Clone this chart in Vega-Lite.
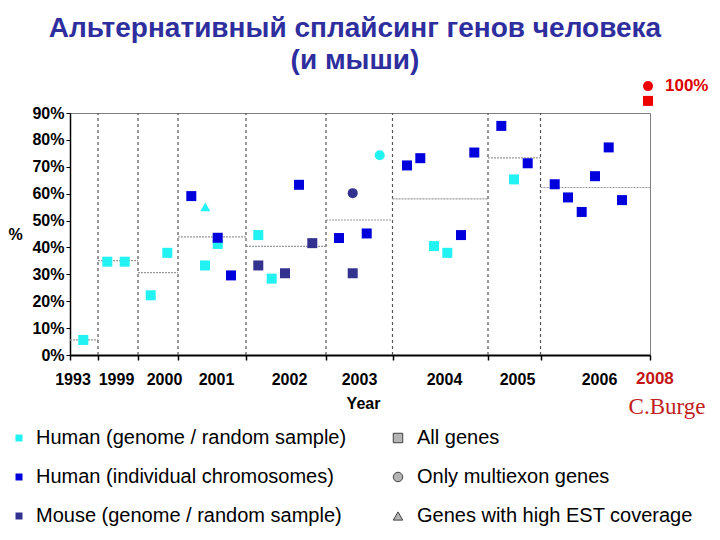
{
  "$schema": "https://vega.github.io/schema/vega-lite/v6.json",
  "autosize": "none",
  "width": 580,
  "height": 242,
  "padding": {"left": 70, "top": 113, "right": 70, "bottom": 185},
  "background": "white",
  "title": {
    "text": ["Альтернативный сплайсинг генов человека", "(и мыши)"],
    "anchor": "middle",
    "frame": "group",
    "dx": -5,
    "offset": 2,
    "font": "Liberation Sans",
    "fontSize": 28,
    "fontWeight": "bold",
    "color": "#2E2E9E",
    "lineHeight": 32
  },
  "config": {
    "view": {"stroke": "#808080", "strokeWidth": 1},
    "axis": {"grid": false, "labelFont": "Liberation Sans", "titleFont": "Liberation Sans", "labelColor": "black", "titleColor": "black"},
    "axisY": {"labelOverlap": false, "labelFlush": false, "labelBound": false, "labelSeparation": 0}
  },
  "datasets": {
    "points": [
      {"pos": 13.3, "pct": 5.6, "group": "Human (genome / random sample)", "geneset": "All genes"},
      {"pos": 37.3, "pct": 34.7, "group": "Human (genome / random sample)", "geneset": "All genes"},
      {"pos": 54.7, "pct": 34.7, "group": "Human (genome / random sample)", "geneset": "All genes"},
      {"pos": 80.7, "pct": 22.2, "group": "Human (genome / random sample)", "geneset": "All genes"},
      {"pos": 97.3, "pct": 38.0, "group": "Human (genome / random sample)", "geneset": "All genes"},
      {"pos": 135.0, "pct": 33.3, "group": "Human (genome / random sample)", "geneset": "All genes"},
      {"pos": 147.7, "pct": 41.3, "group": "Human (genome / random sample)", "geneset": "All genes"},
      {"pos": 188.3, "pct": 44.6, "group": "Human (genome / random sample)", "geneset": "All genes"},
      {"pos": 201.7, "pct": 28.4, "group": "Human (genome / random sample)", "geneset": "All genes"},
      {"pos": 364.0, "pct": 40.5, "group": "Human (genome / random sample)", "geneset": "All genes"},
      {"pos": 377.3, "pct": 38.0, "group": "Human (genome / random sample)", "geneset": "All genes"},
      {"pos": 444.0, "pct": 65.3, "group": "Human (genome / random sample)", "geneset": "All genes"},
      {"pos": 135.3, "pct": 55.1, "group": "Human (genome / random sample)", "geneset": "Genes with high EST coverage"},
      {"pos": 309.7, "pct": 74.3, "group": "Human (genome / random sample)", "geneset": "Only multiexon genes"},
      {"pos": 121.3, "pct": 59.1, "group": "Human (individual chromosomes)", "geneset": "All genes"},
      {"pos": 147.7, "pct": 43.6, "group": "Human (individual chromosomes)", "geneset": "All genes"},
      {"pos": 161.0, "pct": 29.6, "group": "Human (individual chromosomes)", "geneset": "All genes"},
      {"pos": 229.0, "pct": 63.3, "group": "Human (individual chromosomes)", "geneset": "All genes"},
      {"pos": 269.0, "pct": 43.5, "group": "Human (individual chromosomes)", "geneset": "All genes"},
      {"pos": 296.7, "pct": 45.2, "group": "Human (individual chromosomes)", "geneset": "All genes"},
      {"pos": 337.0, "pct": 70.5, "group": "Human (individual chromosomes)", "geneset": "All genes"},
      {"pos": 350.3, "pct": 73.2, "group": "Human (individual chromosomes)", "geneset": "All genes"},
      {"pos": 391.0, "pct": 44.6, "group": "Human (individual chromosomes)", "geneset": "All genes"},
      {"pos": 404.3, "pct": 75.3, "group": "Human (individual chromosomes)", "geneset": "All genes"},
      {"pos": 431.3, "pct": 85.2, "group": "Human (individual chromosomes)", "geneset": "All genes"},
      {"pos": 457.7, "pct": 71.3, "group": "Human (individual chromosomes)", "geneset": "All genes"},
      {"pos": 484.7, "pct": 63.5, "group": "Human (individual chromosomes)", "geneset": "All genes"},
      {"pos": 498.0, "pct": 58.6, "group": "Human (individual chromosomes)", "geneset": "All genes"},
      {"pos": 511.7, "pct": 53.2, "group": "Human (individual chromosomes)", "geneset": "All genes"},
      {"pos": 525.0, "pct": 66.5, "group": "Human (individual chromosomes)", "geneset": "All genes"},
      {"pos": 538.7, "pct": 77.2, "group": "Human (individual chromosomes)", "geneset": "All genes"},
      {"pos": 552.0, "pct": 57.6, "group": "Human (individual chromosomes)", "geneset": "All genes"},
      {"pos": 188.3, "pct": 33.3, "group": "Mouse (genome / random sample)", "geneset": "All genes"},
      {"pos": 215.0, "pct": 30.4, "group": "Mouse (genome / random sample)", "geneset": "All genes"},
      {"pos": 242.3, "pct": 41.6, "group": "Mouse (genome / random sample)", "geneset": "All genes"},
      {"pos": 282.7, "pct": 30.4, "group": "Mouse (genome / random sample)", "geneset": "All genes"},
      {"pos": 282.7, "pct": 60.2, "group": "Mouse (genome / random sample)", "geneset": "Only multiexon genes"},
      {"pos": 578.0, "pct": 100.0, "group": "2008", "geneset": "Only multiexon genes"},
      {"pos": 578.0, "pct": 94.5, "group": "2008", "geneset": "All genes"}
    ],
    "periods": [
      {"year": "1993", "start": 0, "end": 28, "pct": 5.6},
      {"year": "1999", "start": 28, "end": 68, "pct": 35.1},
      {"year": "2000", "start": 68, "end": 108, "pct": 30.6},
      {"year": "2001", "start": 108, "end": 176, "pct": 43.9},
      {"year": "2002", "start": 176, "end": 256, "pct": 40.4},
      {"year": "2003", "start": 256, "end": 322.5, "pct": 50.2},
      {"year": "2004", "start": 322.5, "end": 418, "pct": 58.1},
      {"year": "2005", "start": 418, "end": 470.5, "pct": 73.3},
      {"year": "2006", "start": 470.5, "end": 580, "pct": 62.3}
    ],
    "notes": [
      {"pos": 595, "pct": 100, "label": "100%"},
      {"pos": 566, "pct": -9, "label": "2008"}
    ],
    "credit": [
      {"pos": 597, "pct": -19.5, "label": "C.Burge"}
    ]
  },
  "encoding": {
    "y": {
      "field": "pct", "type": "quantitative", "title": "%",
      "scale": {"domain": [0, 90], "nice": false, "zero": true},
      "axis": {
        "values": [0, 10, 20, 30, 40, 50, 60, 70, 80, 90],
        "labelExpr": "datum.value + '%'", "labelOverlap": false, "labelFlush": false, "labelBound": false,
        "labelFontSize": 16, "labelFontWeight": "bold", "labelPadding": 2,
        "tickSize": 4, "tickColor": "black",
        "domainColor": "black", "domainWidth": 1.5,
        "title": "%", "titleFontSize": 16, "titleFontWeight": "bold",
        "titleAngle": 0, "titleAlign": "center", "titleBaseline": "middle",
        "titleX": -55, "titleY": 121
      }
    }
  },
  "layer": [
    {
      "data": {"name": "periods"},
      "transform": [{"filter": "datum.start > 0"}],
      "mark": {"type": "rule", "color": "#555555", "strokeWidth": 1.2, "strokeDash": [3, 3]},
      "encoding": {
        "x": {
          "field": "start", "type": "quantitative",
          "scale": {"domain": [0, 580], "nice": false, "zero": false},
          "axis": {
            "orient": "bottom",
            "values": [0, 28, 68, 108, 176, 256, 322.5, 418, 470.5, 580],
            "labels": false, "ticks": true, "tickSize": 5, "tickColor": "black", "tickWidth": 1.5,
            "domainColor": "black", "domainWidth": 2, "title": null
          }
        },
        "y": {"datum": 0, "type": "quantitative"},
        "y2": {"datum": 90}
      }
    },
    {
      "data": {"name": "periods"},
      "mark": {"type": "rule", "color": "#999999", "strokeWidth": 1.2, "strokeDash": [2, 1]},
      "encoding": {
        "x": {"field": "start", "type": "quantitative", "axis": null},
        "x2": {"field": "end"}
      }
    },
    {
      "data": {"name": "points"},
      "mark": {"type": "point", "filled": true, "opacity": 1, "size": 100},
      "encoding": {
        "x": {
          "field": "pos", "type": "quantitative",
          "axis": {
            "orient": "bottom",
            "values": [2.5, 46, 94, 146, 219, 289, 374, 447, 529],
            "labelExpr": "datum.value < 20 ? '1993' : datum.value < 60 ? '1999' : datum.value < 100 ? '2000' : datum.value < 180 ? '2001' : datum.value < 250 ? '2002' : datum.value < 320 ? '2003' : datum.value < 400 ? '2004' : datum.value < 480 ? '2005' : '2006'",
            "labelFontSize": 16, "labelFontWeight": "bold", "labelPadding": 16, "labelFlush": false, "labelOverlap": false,
            "ticks": false, "tickSize": 0, "domain": false,
            "title": "Year", "titleFontSize": 16, "titleFontWeight": "bold",
            "titleX": 293, "titleY": 48, "titleAlign": "center", "titleBaseline": "middle"
          }
        },
        "color": {
          "field": "group", "type": "nominal",
          "scale": {
            "domain": ["Human (genome / random sample)", "Human (individual chromosomes)", "Mouse (genome / random sample)", "2008"],
            "range": ["#22F2F2", "#0000DD", "#33338F", "#EE0000"]
          },
          "legend": {
            "values": ["Human (genome / random sample)", "Human (individual chromosomes)", "Mouse (genome / random sample)"],
            "orient": "none", "legendX": -61, "legendY": 315, "direction": "vertical",
            "title": null, "symbolType": "square", "symbolSize": 49, "symbolStrokeWidth": 0,
            "labelFont": "Liberation Sans", "labelFontSize": 20, "labelColor": "black", "labelLimit": 500,
            "labelOffset": 7, "rowPadding": 19, "padding": 0
          }
        },
        "shape": {
          "field": "geneset", "type": "nominal",
          "scale": {
            "domain": ["All genes", "Only multiexon genes", "Genes with high EST coverage"],
            "range": ["square", "circle", "triangle-up"]
          },
          "legend": {
            "orient": "none", "legendX": 318, "legendY": 315, "direction": "vertical",
            "title": null, "symbolSize": 90, "symbolFillColor": "#B4B4B4", "symbolStrokeColor": "#404040", "symbolStrokeWidth": 1,
            "labelFont": "Liberation Sans", "labelFontSize": 20, "labelColor": "black", "labelLimit": 500,
            "labelOffset": 9, "rowPadding": 19, "padding": 0
          }
        }
      }
    },
    {
      "data": {"name": "notes"},
      "mark": {"type": "text", "align": "left", "baseline": "middle", "font": "Liberation Sans", "fontSize": 17, "fontWeight": "bold"},
      "encoding": {
        "x": {"field": "pos", "type": "quantitative", "axis": null},
        "text": {"field": "label"},
        "color": {"condition": {"test": "datum.label == '2008'", "value": "#C41414"}, "value": "#DD0000"}
      }
    },
    {
      "data": {"name": "credit"},
      "mark": {"type": "text", "align": "center", "baseline": "middle", "font": "Liberation Serif", "fontSize": 23, "color": "#C02020"},
      "encoding": {
        "x": {"field": "pos", "type": "quantitative", "axis": null},
        "text": {"field": "label"}
      }
    }
  ],
  "resolve": {"axis": {"x": "independent"}}
}
